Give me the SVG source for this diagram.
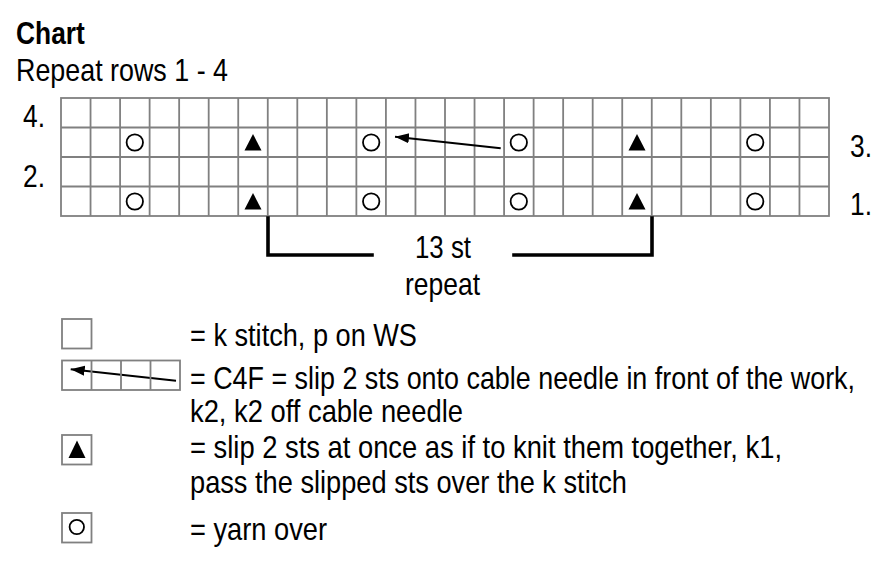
<svg xmlns="http://www.w3.org/2000/svg" width="896" height="580" viewBox="0 0 896 580">
<style>
text{font-family:"Liberation Sans Narrow","Liberation Sans",Arial,sans-serif;font-size:32px;fill:#000}
.b{font-weight:bold}
.grid{fill:none;stroke:#808080;stroke-width:1.8}
.yo{fill:#fff;stroke:#000;stroke-width:1.8}
.dec{fill:#000}
.arr{stroke:#000;stroke-width:2;fill:none}
.brk{stroke:#000;stroke-width:3.6;fill:none;stroke-linecap:square}
</style>
<defs>
<marker id="ah" markerUnits="userSpaceOnUse" markerWidth="16" markerHeight="12" refX="14" refY="6" orient="auto">
<polygon points="0,1 14,6 0,11" fill="#000"/>
</marker>
</defs>
<rect width="896" height="580" fill="#fff"/>
<g id="title">
<text class="b" transform="translate(16,44) scale(0.82,1)" textLength="84" lengthAdjust="spacingAndGlyphs">Chart</text>
<text transform="translate(16,81) scale(0.82,1)" textLength="258.5" lengthAdjust="spacingAndGlyphs">Repeat rows 1 - 4</text>
</g>
<g id="row-labels">
<text transform="translate(23,127) scale(0.82,1)" textLength="26.8" lengthAdjust="spacingAndGlyphs">4.</text>
<text transform="translate(23,187) scale(0.82,1)" textLength="26.8" lengthAdjust="spacingAndGlyphs">2.</text>
<text transform="translate(850,157) scale(0.82,1)" textLength="26.8" lengthAdjust="spacingAndGlyphs">3.</text>
<text transform="translate(850,215) scale(0.82,1)" textLength="26.8" lengthAdjust="spacingAndGlyphs">1.</text>
</g>
<g id="chart-grid">
<rect class="grid" x="61" y="98" width="768" height="118"/>
<path class="grid" d="M61,127.5H829M61,157H829M61,186.5H829
M90.54,98V216M120.08,98V216M149.62,98V216M179.15,98V216M208.69,98V216M238.23,98V216M267.77,98V216M297.31,98V216M326.85,98V216M356.38,98V216M385.92,98V216M415.46,98V216M445,98V216M474.54,98V216M504.08,98V216M533.62,98V216M563.15,98V216M592.69,98V216M622.23,98V216M651.77,98V216M681.31,98V216M710.85,98V216M740.38,98V216M769.92,98V216M799.46,98V216"/>
</g>
<g id="chart-symbols">
<circle class="yo" cx="134.8" cy="142.5" r="8.2"/>
<circle class="yo" cx="371.2" cy="142.5" r="8.2"/>
<circle class="yo" cx="518.8" cy="142.5" r="8.2"/>
<circle class="yo" cx="755.2" cy="142.5" r="8.2"/>
<circle class="yo" cx="134.8" cy="201.5" r="8.2"/>
<circle class="yo" cx="371.2" cy="201.5" r="8.2"/>
<circle class="yo" cx="518.8" cy="201.5" r="8.2"/>
<circle class="yo" cx="755.2" cy="201.5" r="8.2"/>
<polygon class="dec" points="253,134 261.5,150.5 244.5,150.5"/>
<polygon class="dec" points="637,134 645.5,150.5 628.5,150.5"/>
<polygon class="dec" points="253,193 261.5,209.5 244.5,209.5"/>
<polygon class="dec" points="637,193 645.5,209.5 628.5,209.5"/>
</g>
<g id="connectors">
<line class="arr" x1="500.7" y1="148.3" x2="395" y2="136.7" marker-end="url(#ah)"/>
<path class="brk" d="M268,218V255H372"/>
<path class="brk" d="M514,255H652V218"/>
<line class="arr" x1="176" y1="380.7" x2="70.7" y2="369.3" marker-end="url(#ah)"/>
</g>
<g id="repeat-label">
<text transform="translate(443,258) scale(0.82,1)" text-anchor="middle" textLength="68.3" lengthAdjust="spacingAndGlyphs">13 st</text>
<text transform="translate(442.5,295) scale(0.82,1)" text-anchor="middle" textLength="91.5" lengthAdjust="spacingAndGlyphs">repeat</text>
</g>
<g id="legend-knit">
<rect class="grid" x="62" y="319" width="29.5" height="29.5"/>
<text transform="translate(190,346) scale(0.82,1)" textLength="276.8" lengthAdjust="spacingAndGlyphs">= k stitch, p on WS</text>
</g>
<g id="legend-c4f">
<rect class="grid" x="62" y="360.5" width="118" height="29.5"/>
<path class="grid" d="M91.5,360.5V390M121,360.5V390M150.5,360.5V390"/>
<text transform="translate(190,389) scale(0.82,1)" textLength="811" lengthAdjust="spacingAndGlyphs">= C4F = slip 2 sts onto cable needle in front of the work,</text>
<text transform="translate(190,422) scale(0.82,1)" textLength="332.9" lengthAdjust="spacingAndGlyphs">k2, k2 off cable needle</text>
</g>
<g id="legend-dec">
<rect class="grid" x="62" y="435" width="29.5" height="29.5"/>
<polygon class="dec" points="77,440.5 85.5,458 68.5,458"/>
<text transform="translate(190,458) scale(0.82,1)" textLength="722" lengthAdjust="spacingAndGlyphs">= slip 2 sts at once as if to knit them together, k1,</text>
<text transform="translate(190,493) scale(0.82,1)" textLength="532.9" lengthAdjust="spacingAndGlyphs">pass the slipped sts over the k stitch</text>
</g>
<g id="legend-yo">
<rect class="grid" x="62" y="513" width="29.5" height="29.5"/>
<circle class="yo" cx="76.8" cy="527" r="7.2"/>
<text transform="translate(190,540) scale(0.82,1)" textLength="167.1" lengthAdjust="spacingAndGlyphs">= yarn over</text>
</g>
</svg>
